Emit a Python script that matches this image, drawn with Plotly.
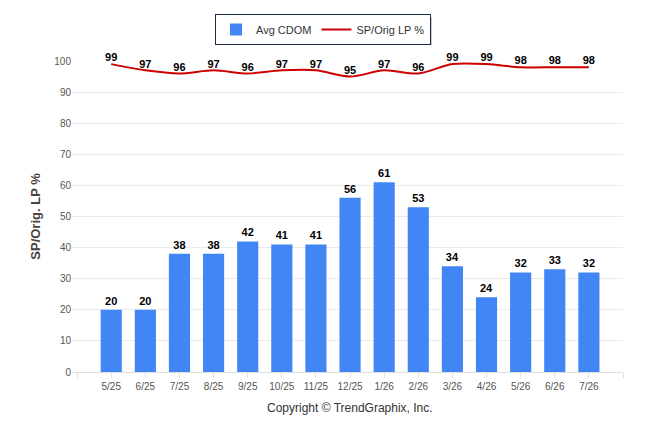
import plotly.graph_objects as go

months = ["5/25", "6/25", "7/25", "8/25", "9/25", "10/25", "11/25", "12/25",
          "1/26", "2/26", "3/26", "4/26", "5/26", "6/26", "7/26"]
avg_cdom = [20, 20, 38, 38, 42, 41, 41, 56, 61, 53, 34, 24, 32, 33, 32]
sp_orig_lp = [99, 97, 96, 97, 96, 97, 97, 95, 97, 96, 99, 99, 98, 98, 98]
y_ticks = list(range(0, 101, 10))

x_idx = list(range(len(months)))
tick_vals = [-1] + x_idx + [len(months)]
tick_text = [""] + months + [""]

OFF = 8  # page body margin
W, H = 646 - OFF, 434 - OFF
L, R, T, B = 72 - OFF, 23, 61 - OFF, 62

fig = go.Figure()
fig.add_trace(go.Bar(
    x=x_idx, y=avg_cdom, name="Avg CDOM",
    marker=dict(color="#4285F4", line=dict(width=0)),
    width=0.62,
    text=[str(v) for v in avg_cdom], textposition="outside",
    textfont=dict(family="Liberation Sans, Arial", size=11, color="#000000", weight="bold"),
    cliponaxis=False,
))
fig.add_trace(go.Scatter(
    x=x_idx, y=sp_orig_lp, name="SP/Orig LP %", mode="lines+text",
    line=dict(color="#CC0000", width=2, shape="spline", smoothing=0.8),
    text=[str(v) for v in sp_orig_lp], textposition="top center",
    textfont=dict(family="Liberation Sans, Arial", size=11, color="#000000", weight="bold"),
    cliponaxis=False,
))

# helpers: page pixel -> paper coords
def px2x(px):
    return (px - OFF - L) / (W - L - R)

def py2y(py):
    return (H - B - (py - OFF)) / (H - T - B)

# legend drop shadow
fig.add_shape(type="rect", xref="paper", yref="paper",
              x0=px2x(219), x1=px2x(432), y0=py2y(45), y1=py2y(17),
              fillcolor="rgba(0,0,0,0.22)", line=dict(width=0), layer="below")

fig.update_layout(
    width=W, height=H,
    margin=dict(l=L, r=R, t=T, b=B, autoexpand=False),
    paper_bgcolor="white", plot_bgcolor="white",
    font=dict(family="Liberation Sans, Arial", color="#333333"),
    showlegend=True,
    legend=dict(
        orientation="h", xref="container", yref="container",
        x=(323 - OFF) / W, xanchor="center", y=1 - (14 - OFF) / H, yanchor="top",
        bordercolor="#1f2d4d", borderwidth=1, bgcolor="white",
        font=dict(size=11, color="#333333"),
        traceorder="normal", itemwidth=30,
    ),
    xaxis=dict(
        range=[-1.15, len(months)], automargin=False,
        tickmode="array", tickvals=tick_vals, ticktext=tick_text,
        showgrid=False, zeroline=False,
        showline=True, linecolor="#e0e0e0", linewidth=1,
        ticks="outside", ticklen=5, tickcolor="#e0e0e0",
        tickfont=dict(size=10, color="#555555"),
    ),
    yaxis=dict(
        range=[0, 100], tickmode="array", tickvals=y_ticks, automargin=False,
        showgrid=True, gridcolor="#ebebeb", gridwidth=1,
        zeroline=False, showline=False,
        tickfont=dict(size=10, color="#555555"),
        title=dict(text="SP/Orig. LP %", font=dict(size=13, color="#4d4040", weight="bold"), standoff=10),
    ),
    annotations=[dict(
        text="Copyright © TrendGraphix, Inc.", xref="paper", yref="paper",
        x=px2x(350), y=py2y(408), xanchor="center", yanchor="middle",
        showarrow=False, font=dict(size=12, color="#333333"),
    )],
)

fig.write_html("out.html")
